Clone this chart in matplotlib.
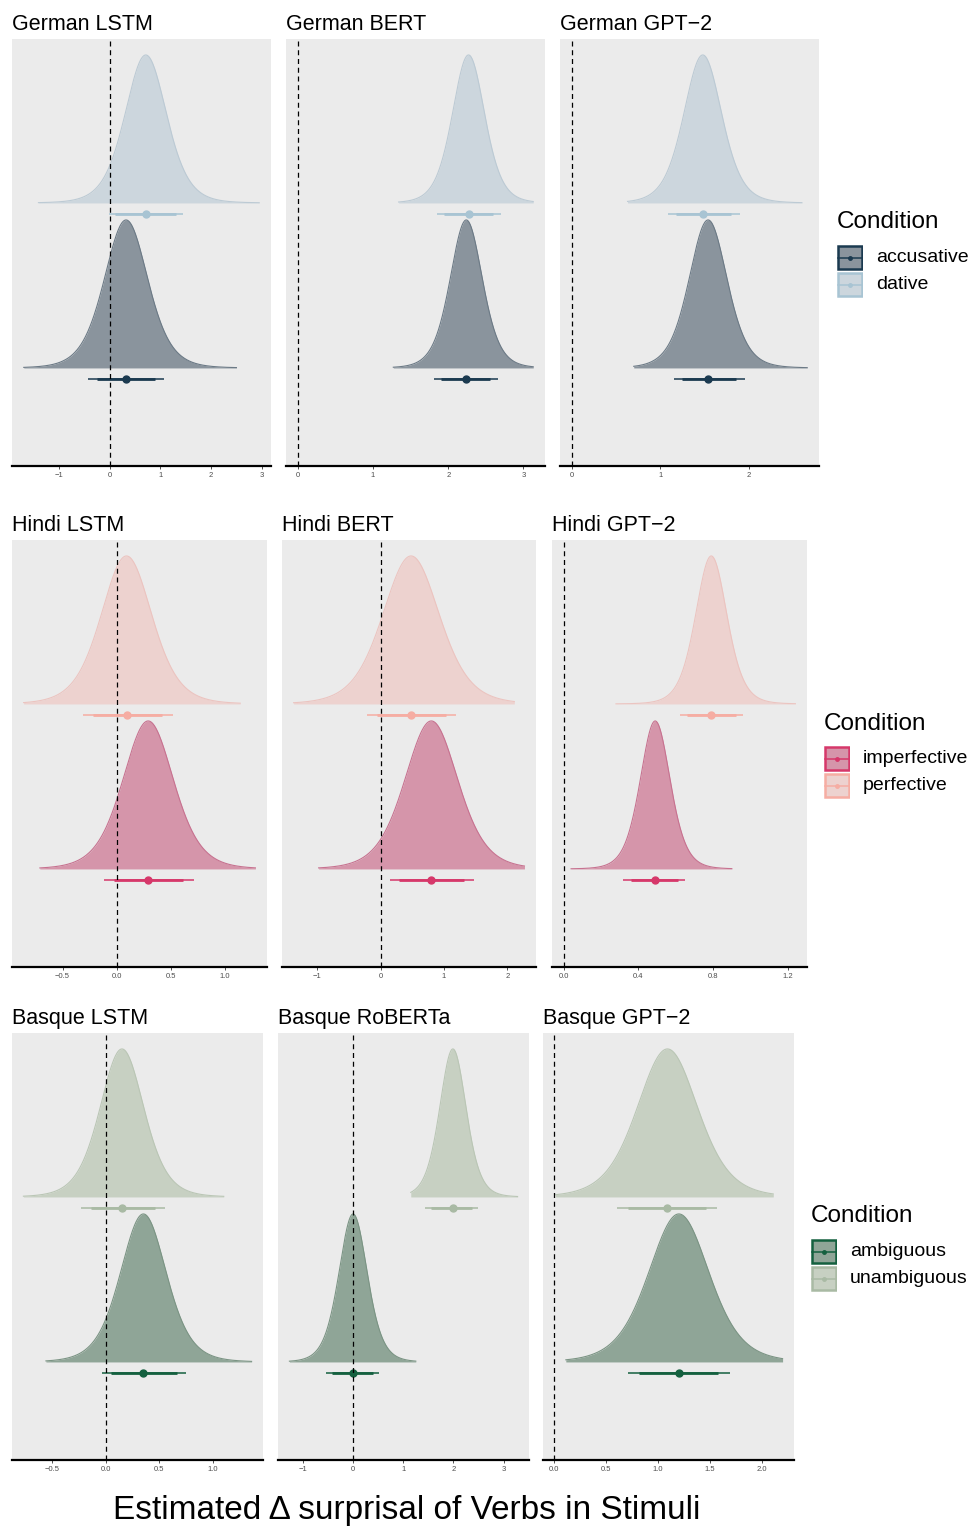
import numpy as np
import matplotlib
matplotlib.use("Agg")
import matplotlib.pyplot as plt
from matplotlib.patches import Rectangle
from matplotlib.lines import Line2D

plt.rcParams["font.family"] = ["Liberation Sans", "DejaVu Sans"]

W, H = 972, 1527
PANEL_BG = "#EBEBEB"

# ---------------------------------------------------------------------------
# Posterior summaries per language / model / condition
# (median, 95% interval, inner interval, sample range, density spread)
# ---------------------------------------------------------------------------
GERMAN_MODELS = ["German LSTM", "German BERT", "German GPT\u22122"]
GERMAN_CONDS = ["accusative", "dative"]
ACC_MED = [0.32, 2.24, 1.54]
ACC_LO95 = [-0.44, 1.81, 1.15]
ACC_HI95 = [1.07, 2.66, 1.96]
ACC_LO_IN = [-0.26, 1.91, 1.24]
ACC_HI_IN = [0.90, 2.56, 1.86]
ACC_MIN = [-1.70, 1.27, 0.70]
ACC_MAX = [2.50, 3.13, 2.66]
ACC_SPREAD = [0.44, 0.22, 0.22]
DAT_MED = [0.71, 2.27, 1.48]
DAT_LO95 = [-0.02, 1.85, 1.09]
DAT_HI95 = [1.45, 2.70, 1.90]
DAT_LO_IN = [0.10, 1.95, 1.18]
DAT_HI_IN = [1.30, 2.60, 1.80]
DAT_MIN = [-1.41, 1.34, 0.63]
DAT_MAX = [2.95, 3.13, 2.60]
DAT_SPREAD = [0.42, 0.22, 0.22]

HINDI_MODELS = ["Hindi LSTM", "Hindi BERT", "Hindi GPT\u22122"]
HINDI_CONDS = ["imperfective", "perfective"]
IMP_MED = [0.29, 0.80, 0.49]
IMP_LO95 = [-0.12, 0.14, 0.32]
IMP_HI95 = [0.71, 1.48, 0.65]
IMP_LO_IN = [-0.03, 0.29, 0.36]
IMP_HI_IN = [0.61, 1.32, 0.61]
IMP_MIN = [-0.71, -0.98, 0.04]
IMP_MAX = [1.28, 2.27, 0.90]
IMP_SPREAD = [0.24, 0.43, 0.082]
PERF_MED = [0.09, 0.48, 0.79]
PERF_LO95 = [-0.31, -0.22, 0.62]
PERF_HI95 = [0.52, 1.19, 0.96]
PERF_LO_IN = [-0.22, -0.06, 0.66]
PERF_HI_IN = [0.42, 1.03, 0.92]
PERF_MIN = [-0.86, -1.375, 0.28]
PERF_MAX = [1.14, 2.11, 1.24]
PERF_SPREAD = [0.24, 0.46, 0.086]

BASQUE_MODELS = ["Basque LSTM", "Basque RoBERTa", "Basque GPT\u22122"]
BASQUE_CONDS = ["ambiguous", "unambiguous"]
AMB_MED = [0.35, 0.00, 1.20]
AMB_LO95 = [-0.04, -0.54, 0.71]
AMB_HI95 = [0.75, 0.52, 1.69]
AMB_LO_IN = [0.05, -0.42, 0.82]
AMB_HI_IN = [0.66, 0.40, 1.58]
AMB_MIN = [-0.56, -1.27, 0.11]
AMB_MAX = [1.36, 1.25, 2.20]
AMB_SPREAD = [0.22, 0.29, 0.30]
UNAMB_MED = [0.15, 1.99, 1.09]
UNAMB_LO95 = [-0.23, 1.43, 0.60]
UNAMB_HI95 = [0.55, 2.50, 1.57]
UNAMB_LO_IN = [-0.14, 1.56, 0.71]
UNAMB_HI_IN = [0.46, 2.38, 1.46]
UNAMB_MIN = [-0.77, 1.15, 0.01]
UNAMB_MAX = [1.10, 3.28, 2.11]
UNAMB_SPREAD = [0.21, 0.27, 0.30]

GERMAN_TICKS = [[-1, 0, 1, 2, 3], [0, 1, 2, 3], [0, 1, 2]]
GERMAN_TICKLABELS = [["\u22121", "0", "1", "2", "3"], ["0", "1", "2", "3"],
                     ["0", "1", "2"]]
HINDI_TICKS = [[-0.5, 0.0, 0.5, 1.0], [-1, 0, 1, 2], [0.0, 0.4, 0.8, 1.2]]
HINDI_TICKLABELS = [["\u22120.5", "0.0", "0.5", "1.0"],
                    ["\u22121", "0", "1", "2"],
                    ["0.0", "0.4", "0.8", "1.2"]]
BASQUE_TICKS = [[-0.5, 0.0, 0.5, 1.0], [-1, 0, 1, 2, 3],
                [0.0, 0.5, 1.0, 1.5, 2.0]]
BASQUE_TICKLABELS = [["\u22120.5", "0.0", "0.5", "1.0"],
                     ["\u22121", "0", "1", "2", "3"],
                     ["0.0", "0.5", "1.0", "1.5", "2.0"]]

# colours: (slab fill, slab outline, interval)
GERMAN_COLORS = [("#8A949D", "#6C7A86", "#1B3A50"),
                 ("#CCD6DD", "#BCCAD4", "#A8C4D3")]
HINDI_COLORS = [("#D595AA", "#C77290", "#D6386A"),
                ("#EDD2CF", "#EBC4C0", "#F6ADA3")]
BASQUE_COLORS = [("#8FA597", "#7B9484", "#14603F"),
                 ("#C7D0C2", "#BAC6B5", "#A9BAA4")]


def cond_summary(med, lo95, hi95, lo_in, hi_in, vmin, vmax, spread):
    return dict(med=med, lo95=lo95, hi95=hi95, lo_in=lo_in, hi_in=hi_in,
                vmin=vmin, vmax=vmax, spread=spread)


ROWS = [
    dict(models=GERMAN_MODELS, conds=GERMAN_CONDS, colors=GERMAN_COLORS,
         ticks=GERMAN_TICKS, ticklabels=GERMAN_TICKLABELS,
         data=[cond_summary(ACC_MED, ACC_LO95, ACC_HI95, ACC_LO_IN,
                            ACC_HI_IN, ACC_MIN, ACC_MAX, ACC_SPREAD),
               cond_summary(DAT_MED, DAT_LO95, DAT_HI95, DAT_LO_IN,
                            DAT_HI_IN, DAT_MIN, DAT_MAX, DAT_SPREAD)],
         top=39, panels=[(12, 271), (286, 545), (560, 819)], legend_x=837),
    dict(models=HINDI_MODELS, conds=HINDI_CONDS, colors=HINDI_COLORS,
         ticks=HINDI_TICKS, ticklabels=HINDI_TICKLABELS,
         data=[cond_summary(IMP_MED, IMP_LO95, IMP_HI95, IMP_LO_IN,
                            IMP_HI_IN, IMP_MIN, IMP_MAX, IMP_SPREAD),
               cond_summary(PERF_MED, PERF_LO95, PERF_HI95, PERF_LO_IN,
                            PERF_HI_IN, PERF_MIN, PERF_MAX, PERF_SPREAD)],
         top=540, panels=[(12, 267), (282, 536), (552, 807)], legend_x=824),
    dict(models=BASQUE_MODELS, conds=BASQUE_CONDS, colors=BASQUE_COLORS,
         ticks=BASQUE_TICKS, ticklabels=BASQUE_TICKLABELS,
         data=[cond_summary(AMB_MED, AMB_LO95, AMB_HI95, AMB_LO_IN,
                            AMB_HI_IN, AMB_MIN, AMB_MAX, AMB_SPREAD),
               cond_summary(UNAMB_MED, UNAMB_LO95, UNAMB_HI95, UNAMB_LO_IN,
                            UNAMB_HI_IN, UNAMB_MIN, UNAMB_MAX, UNAMB_SPREAD)],
         top=1033, panels=[(12, 263), (278, 529), (543, 794)], legend_x=811),
]

PANEL_H = 427
LEVEL_GAP = 165.0          # pixels between the two condition rows
Y_TOP = 2 + 175 / LEVEL_GAP
Y_BOT = 1 - (PANEL_H - 340) / LEVEL_GAP
SLAB_OFFSET = 0.067
SLAB_SCALE = 0.897
TAIL_DF = 7                # slightly heavier-than-normal tails of the slab


def px_axes(fig, x0, y0, x1, y1):
    return fig.add_axes([x0 / W, 1 - y1 / H, (x1 - x0) / W, (y1 - y0) / H])


def draw_halfeye(ax, level, s, i, colors):
    fill, outline, icol = colors
    med = s["med"][i]
    scale = s["spread"][i]
    x = np.linspace(s["vmin"][i], s["vmax"][i], 400)
    z = (x - med) / scale
    dens = (1 + z ** 2 / TAIL_DF) ** (-(TAIL_DF + 1) / 2)
    base = level + SLAB_OFFSET
    ax.fill_between(x, base, base + SLAB_SCALE * dens, color=fill, lw=0,
                    zorder=2)
    ax.plot(x, base + SLAB_SCALE * dens, color=outline, lw=0.8, zorder=3)
    ax.plot([s["lo95"][i], s["hi95"][i]], [level, level], color=icol,
            lw=1.1, solid_capstyle="butt", zorder=4)
    ax.plot([s["lo_in"][i], s["hi_in"][i]], [level, level], color=icol,
            lw=2.0, solid_capstyle="butt", zorder=4)
    ax.plot([med], [level], "o", color=icol, ms=5, zorder=5)


fig = plt.figure(figsize=(W / 100, H / 100), dpi=100)

for row in ROWS:
    top = row["top"]
    for i, (x0, x1) in enumerate(row["panels"]):
        ax = px_axes(fig, x0, top, x1, top + PANEL_H)
        ax.set_facecolor(PANEL_BG)
        lo = min(0, min(d["vmin"][i] for d in row["data"]))
        hi = max(0, max(d["vmax"][i] for d in row["data"]))
        pad = 0.05 * (hi - lo)
        ax.set_xlim(lo - pad, hi + pad)
        ax.set_ylim(Y_BOT, Y_TOP)
        for level, (s, col) in enumerate(zip(row["data"], row["colors"]),
                                         start=1):
            draw_halfeye(ax, level, s, i, col)
        ax.axvline(0, color="black", lw=0.9, ls=(0, (4, 3)), zorder=6)
        for side in ("top", "right", "left"):
            ax.spines[side].set_visible(False)
        ax.spines["bottom"].set_linewidth(1.6)
        ax.spines["bottom"].set_color("black")
        ax.set_yticks([])
        ax.set_xticks(row["ticks"][i])
        ax.set_xticklabels(row["ticklabels"][i])
        ax.tick_params(axis="x", length=2, width=0.6, color="#333333",
                       labelsize=5.5, labelcolor="#4D4D4D", pad=2)
        fig.text(x0 / W, 1 - (top - 9) / H, row["models"][i],
                 fontsize=15.5, ha="left", va="baseline")

    # legend
    lx = row["legend_x"]
    mid = top + PANEL_H / 2
    fig.text(lx / W, 1 - (mid - 24) / H, "Condition", fontsize=17.5,
             ha="left", va="baseline")
    for k, (cond, col) in enumerate(zip(row["conds"], row["colors"])):
        fill, outline, icol = col
        ky0 = mid - 8 + 27 * k
        kax = px_axes(fig, lx, ky0, lx + 26, ky0 + 26)
        kax.set_xlim(0, 1)
        kax.set_ylim(0, 1)
        kax.axis("off")
        kax.add_patch(Rectangle((0.04, 0.04), 0.92, 0.92, facecolor=fill,
                                edgecolor=icol, lw=1.8))
        kax.add_line(Line2D([0.04, 0.96], [0.5, 0.5], color=icol, lw=1.1))
        kax.plot([0.5], [0.5], "o", color=icol, ms=2.5)
        fig.text((lx + 39) / W, 1 - (ky0 + 13) / H, cond, fontsize=14,
                 ha="left", va="center")

fig.text(407 / W, 1 - 1510 / H, "Estimated \u0394 surprisal of Verbs in Stimuli",
         fontsize=24, ha="center", va="center")

fig.savefig("out.png", dpi=100)
